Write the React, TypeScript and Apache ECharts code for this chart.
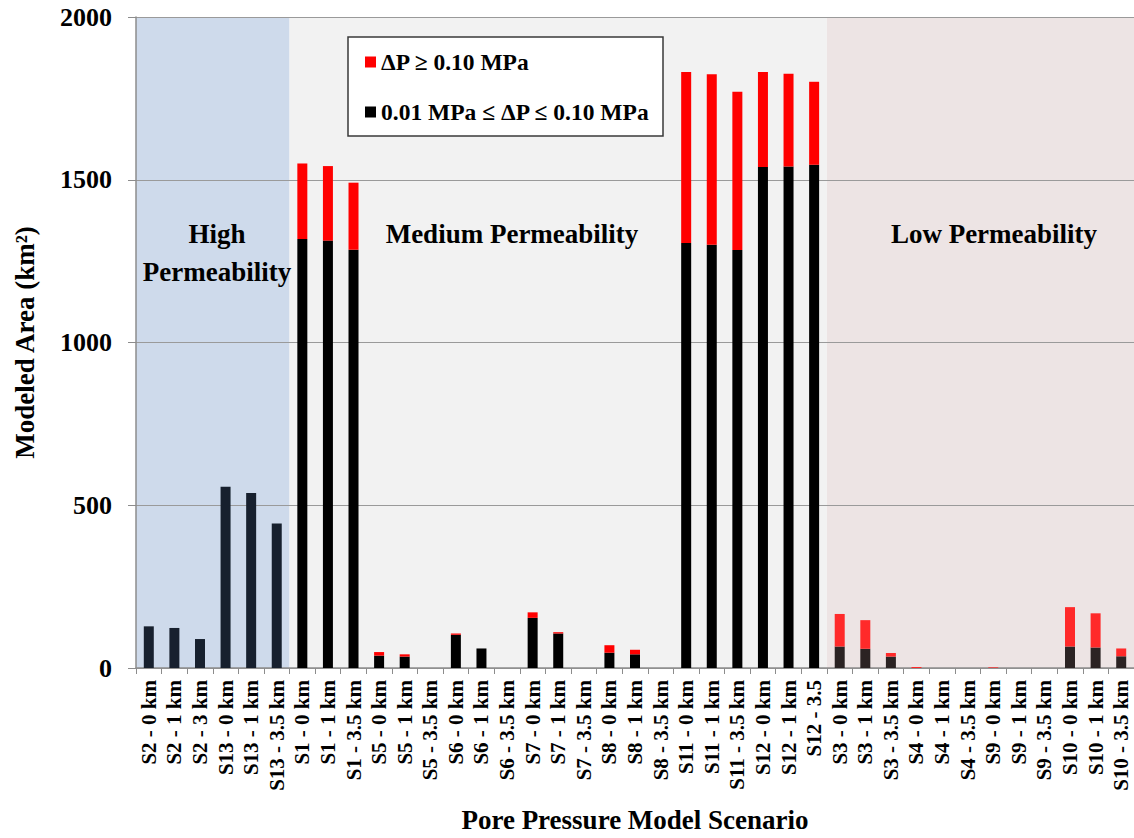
import React, { useEffect, useRef } from "react";
import * as echarts from "echarts";

const categories = [
  "S2 - 0 km", "S2 - 1 km", "S2 - 3 km", "S13 - 0 km", "S13 - 1 km", "S13 - 3.5 km",
  "S1 - 0 km", "S1 - 1 km", "S1 - 3.5 km", "S5 - 0 km", "S5 - 1 km", "S5 - 3.5 km",
  "S6 - 0 km", "S6 - 1 km", "S6 - 3.5 km", "S7 - 0 km", "S7 - 1 km", "S7 - 3.5 km",
  "S8 - 0 km", "S8 - 1 km", "S8 - 3.5 km", "S11 - 0 km", "S11 - 1 km", "S11 - 3.5 km",
  "S12 - 0 km", "S12 - 1 km", "S12 - 3.5", "S3 - 0 km", "S3 - 1 km", "S3 - 3.5 km",
  "S4 - 0 km", "S4 - 1 km", "S4 - 3.5 km", "S9 - 0 km", "S9 - 1 km", "S9 - 3.5 km",
  "S10 - 0 km", "S10 - 1 km", "S10 - 3.5 km",
];

// 0.01 MPa <= dP <= 0.10 MPa (bottom, black)
const lowerValues = [
  128, 123, 89, 557, 538, 444,
  1318, 1313, 1285, 38, 35, 0,
  102, 60, 0, 154, 106, 0,
  47, 42, 0, 1306, 1300, 1284,
  1539, 1541, 1546, 66, 59, 35,
  0, 0, 0, 0, 0, 0,
  66, 63, 36,
];

// dP >= 0.10 MPa (top, red)
const upperValues = [
  0, 0, 0, 0, 0, 0,
  232, 229, 206, 11, 7, 0,
  4, 0, 0, 17, 4, 0,
  23, 14, 0, 525, 524, 486,
  292, 285, 255, 100, 88, 11,
  3, 0, 0, 2, 0, 0,
  121, 105, 24,
];

const yTicks = [0, 500, 1000, 1500, 2000];

const regionNames = ["High", "Medium", "Low"];
const regionStarts = [0, 6, 27];
const regionEnds = [6, 27, 39];

const seriesNames = ["ΔP ≥ 0.10 MPa", "0.01 MPa ≤ ΔP ≤ 0.10 MPa"];

const FONT = "Liberation Serif";

const regionBg: Record<string, string> = { High: "#cedaeb", Medium: "#f2f2f2", Low: "#ede4e4" };
const regionBlack: Record<string, string> = { High: "#17202e", Medium: "#000000", Low: "#2b2323" };
const regionRed: Record<string, string> = { High: "#ff0000", Medium: "#ff0000", Low: "#ff2a2a" };

function regionOf(i: number): string {
  for (let r = 0; r < regionNames.length; r++) {
    if (i >= regionStarts[r] && i < regionEnds[r]) return regionNames[r];
  }
  return "Medium";
}

export default function App() {
  const ref = useRef<HTMLDivElement>(null);
  useEffect(() => {
    if (!ref.current) return;
    const chart = echarts.init(ref.current, undefined, { renderer: "svg" });
    const option: any = {
      animation: false,
      backgroundColor: "#ffffff",
      textStyle: { fontFamily: FONT },
      grid: { left: 136, right: -2, top: 17, bottom: 161, containLabel: false },
      legend: {
        data: seriesNames,
        orient: "vertical",
        left: 360,
        top: 45,
        itemGap: 26,
        itemWidth: 11,
        itemHeight: 11,
        icon: "rect",
        z: 10,
        selectedMode: false,
        textStyle: { fontFamily: FONT, fontSize: 23.5, fontWeight: "bold", color: "#000" },
      },
      graphic: [
        {
          type: "rect",
          z: 5,
          shape: { x: 348, y: 37, width: 315, height: 99 },
          style: { fill: "#ffffff", stroke: "#3a3a3a", lineWidth: 1.5 },
        },
        {
          type: "text",
          z: 5,
          x: 217,
          y: 253,
          style: {
            text: "High\nPermeability",
            fontFamily: FONT,
            fontSize: 27,
            fontWeight: "bold",
            fill: "#000",
            align: "center",
            verticalAlign: "middle",
            lineHeight: 38,
          },
        },
        {
          type: "text",
          z: 5,
          x: 512,
          y: 234,
          style: {
            text: "Medium Permeability",
            fontFamily: FONT,
            fontSize: 27,
            fontWeight: "bold",
            fill: "#000",
            align: "center",
            verticalAlign: "middle",
          },
        },
        {
          type: "text",
          z: 5,
          x: 994,
          y: 234,
          style: {
            text: "Low Permeability",
            fontFamily: FONT,
            fontSize: 27,
            fontWeight: "bold",
            fill: "#000",
            align: "center",
            verticalAlign: "middle",
          },
        },
      ],
      xAxis: [
        {
          type: "category",
          data: categories,
          z: 1,
          name: "Pore Pressure Model Scenario",
          nameLocation: "middle",
          nameGap: 138,
          nameTextStyle: { fontFamily: FONT, fontSize: 27, fontWeight: "bold", color: "#000", verticalAlign: "top" },
          axisLine: { show: true, lineStyle: { color: "#8c8c8c", width: 1.5 } },
          axisTick: { show: true, interval: 0, length: 6, lineStyle: { color: "#8c8c8c" } },
          axisLabel: {
            interval: 0,
            rotate: 90,
            margin: 12,
            fontFamily: FONT,
            fontSize: 21,
            fontWeight: "bold",
            color: "#000",
          },
          splitLine: { show: false },
        },
        {
          type: "value",
          min: 0,
          max: 39,
          show: false,
          position: "bottom",
        },
      ],
      yAxis: {
        type: "value",
        min: yTicks[0],
        max: yTicks[yTicks.length - 1],
        interval: 500,
        z: 1,
        name: "Modeled Area (km²)",
        nameLocation: "middle",
        nameGap: 98,
        nameTextStyle: { fontFamily: FONT, fontSize: 27, fontWeight: "bold", color: "#000" },
        axisLine: { show: true, lineStyle: { color: "#8c8c8c", width: 1.5 } },
        axisTick: { show: true, length: 8, lineStyle: { color: "#8c8c8c" } },
        axisLabel: {
          margin: 24,
          fontFamily: FONT,
          fontSize: 26,
          fontWeight: "bold",
          color: "#000",
          formatter: (v: number) => String(v),
        },
        splitLine: { show: true, lineStyle: { color: "#9a9a9a", width: 1.2 } },
      },
      series: [
        {
          type: "line",
          name: "regions",
          xAxisIndex: 1,
          yAxisIndex: 0,
          data: [],
          silent: true,
          z: 0,
          markArea: {
            silent: true,
            z: 0,
            label: { show: false },
            data: regionNames.map((r, i) => [
              { xAxis: regionStarts[i], itemStyle: { color: regionBg[r] } },
              { xAxis: regionEnds[i] },
            ]),
          },
        },
        {
          type: "bar",
          name: seriesNames[1],
          stack: "total",
          barWidth: 10,
          z: 2,
          itemStyle: { color: "#000000" },
          data: lowerValues.map((v, i) => ({ value: v, itemStyle: { color: regionBlack[regionOf(i)] } })),
        },
        {
          type: "bar",
          name: seriesNames[0],
          stack: "total",
          barWidth: 10,
          z: 2,
          itemStyle: { color: "#ff0000" },
          data: upperValues.map((v, i) => ({ value: v, itemStyle: { color: regionRed[regionOf(i)] } })),
        },
      ],
    };
    chart.setOption(option);
    return () => chart.dispose();
  }, []);
  return (
    <div
      ref={ref}
      style={{ position: "fixed", left: 0, top: 0, width: 1134, height: 838 }}
    />
  );
}
